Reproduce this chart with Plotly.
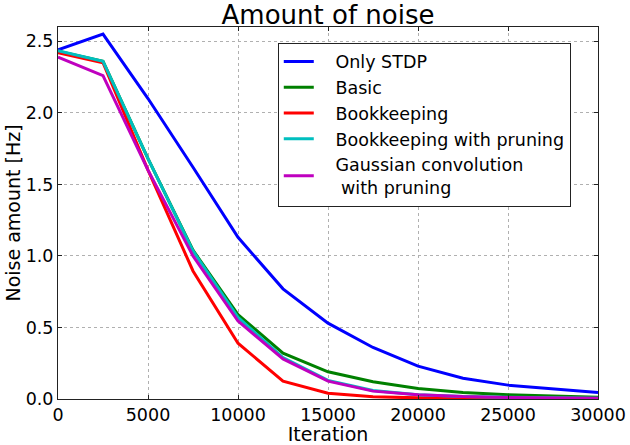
import plotly.graph_objects as go

iterations = [0, 2500, 5000, 7500, 10000, 12500, 15000, 17500, 20000, 22500, 25000, 27500, 30000]

only_stdp = [2.44, 2.55, 2.10, 1.62, 1.13, 0.77, 0.53, 0.36, 0.23, 0.145, 0.097, 0.07, 0.045]
basic = [2.43, 2.36, 1.68, 1.04, 0.59, 0.32, 0.19, 0.12, 0.074, 0.045, 0.03, 0.02, 0.012]
bookkeeping = [2.42, 2.35, 1.60, 0.895, 0.39, 0.125, 0.04, 0.015, 0.008, 0.005, 0.004, 0.003, 0.002]
bookkeeping_pruning = [2.435, 2.36, 1.68, 1.035, 0.57, 0.29, 0.13, 0.06, 0.03, 0.018, 0.012, 0.008, 0.005]
gaussian_pruning = [2.39, 2.26, 1.60, 1.00, 0.545, 0.28, 0.125, 0.055, 0.03, 0.017, 0.011, 0.008, 0.005]

series_names = ["Only STDP", "Basic", "Bookkeeping", "Bookkeeping with pruning",
                "Gaussian convolution<br> with pruning"]
series_values = [only_stdp, basic, bookkeeping, bookkeeping_pruning, gaussian_pruning]
series_colors = ["#0000ff", "#008000", "#ff0000", "#00bfbf", "#bf00bf"]

x_ticks = [0, 5000, 10000, 15000, 20000, 25000, 30000]
y_ticks = [0.0, 0.5, 1.0, 1.5, 2.0, 2.5]
y_tick_labels = ["0.0", "0.5", "1.0", "1.5", "2.0", "2.5"]

pad = "\u00a0\u00a0\u00a0"

fig = go.Figure()
for name, vals, color in zip(series_names, series_values, series_colors):
    label = "<br>".join(pad + part for part in name.split("<br>"))
    fig.add_trace(go.Scatter(x=iterations, y=vals, mode="lines", name=label,
                             line=dict(color=color, width=3)))

font = "DejaVu Sans, Liberation Sans, sans-serif"
axis_common = dict(
    showline=True, linecolor="#222222", linewidth=1, mirror="allticks",
    ticks="inside", ticklen=4, tickcolor="#222222",
    showgrid=True, gridcolor="#b0b0b0", griddash="dot", gridwidth=1,
    zeroline=False, automargin=False,
    tickfont=dict(size=17.5, color="black", family=font),
)

fig.update_layout(
    width=630, height=445,
    margin=dict(l=58, r=32, t=27, b=46),
    paper_bgcolor="white", plot_bgcolor="white",
    font=dict(family=font, color="black"),
    title=dict(text="Amount of noise", x=0.5, xref="paper",
               y=(445 - 15) / 445, yref="container", yanchor="middle",
               font=dict(size=26, color="black", family=font)),
    xaxis=dict(range=[0, 30000], tickvals=x_ticks, ticktext=[str(v) for v in x_ticks],
               ticklabelstandoff=0,
               title=dict(text="Iteration", font=dict(size=19), standoff=0), **axis_common),
    yaxis=dict(range=[0, 2.6], tickvals=y_ticks, ticktext=y_tick_labels,
               ticklabelstandoff=0,
               title=dict(text="Noise amount [Hz]", font=dict(size=19), standoff=0), **axis_common),
    legend=dict(x=0.407, y=0.958, xanchor="left", yanchor="top",
                bordercolor="#222222", borderwidth=1, bgcolor="white",
                font=dict(size=17.5, color="black", family=font),
                tracegroupgap=0, itemwidth=30),
    showlegend=True,
)

fig.write_html("out.html", config={"displayModeBar": False},
               post_script="document.body.style.margin='0';")
